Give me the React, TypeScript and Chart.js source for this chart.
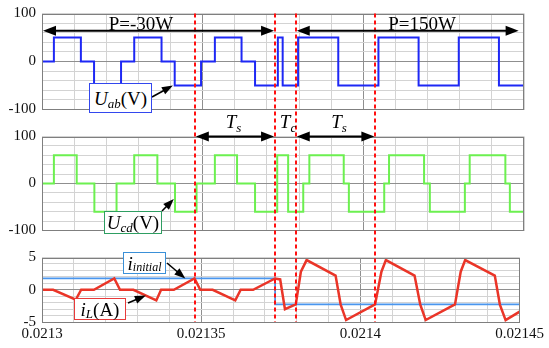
import React, { useEffect, useRef } from "react";
import { Chart, registerables } from "chart.js";

Chart.register(...registerables);

// ---------------- axes ----------------
const xMin = 0.0213;
const xMax = 0.02145;
const xGridStep = 0.00001;
const xTickLabels = [0.0213, 0.02135, 0.0214, 0.02145];
const xMajorGrid = [0.02135, 0.0214];
const voltTickLabels = [100, 0, -100];
const currentTickLabels = [5, 0, -5];

// ---------------- U_ab (V), step changes ----------------
const uabTimes = [
  0.0213, 0.0213037, 0.0213121, 0.0213162, 0.0213246, 0.0213287, 0.0213372,
  0.0213413, 0.0213495, 0.0213538, 0.0213621, 0.0213663, 0.0213734, 0.0213749,
  0.0213797, 0.0213922, 0.0214047, 0.0214172, 0.0214297, 0.0214422, 0.02145,
];
const uabValues = [
  0, 50, 0, -50, 0, 50, 0, -50, 0, 50, 0, -50, 50, -50, 50, -50, 50, -50, 50, -50, -50,
];

// ---------------- U_cd (V), step changes ----------------
const ucdTimes = [
  0.0213, 0.0213037, 0.0213108, 0.0213163, 0.0213232, 0.0213287, 0.0213359,
  0.0213414, 0.0213481, 0.0213538, 0.0213607, 0.0213663, 0.0213732, 0.0213766,
  0.0213813, 0.0213832, 0.0213939, 0.0213955, 0.0214065, 0.021408, 0.0214189,
  0.0214207, 0.0214316, 0.0214331, 0.0214442, 0.0214456, 0.02145,
];
const ucdValues = [
  0, 60, 0, -60, 0, 60, 0, -60, 0, 60, 0, -60, 60, -60, 0, 60, 0, -60, 0, 60, 0,
  -60, 0, 60, 0, -60, -60,
];

// ---------------- i_L (A) ----------------
const iLTimes = [
  0.0213, 0.0213035, 0.0213106, 0.0213123, 0.0213163, 0.0213227, 0.0213245,
  0.0213287, 0.0213359, 0.0213374, 0.0213414, 0.0213479, 0.0213497, 0.0213536,
  0.0213607, 0.0213624, 0.0213663, 0.0213732, 0.0213748, 0.0213763, 0.0213797,
  0.0213813, 0.0213831, 0.0213922, 0.0213938, 0.0213955, 0.0214046, 0.0214066,
  0.021408, 0.021417, 0.0214188, 0.0214205, 0.0214297, 0.0214315, 0.0214329,
  0.0214422, 0.0214438, 0.0214456, 0.02145,
];
const iLValues = [
  0, 0, -1.55, 0, 0, 1.75, 0, 0, -1.65, 0, 0, 1.75, 0, 0, -1.65, 0, 0, 1.75, 1.6,
  -3.0, -2.27, 2.8, 4.6, 2.2, -2.3, -4.7, -2.27, 2.8, 4.6, 2.2, -2.3, -4.7, -2.27,
  2.8, 4.6, 2.2, -2.3, -4.7, -3.4,
];

// ---------------- i_initial reference line ----------------
const iInitTimes = [0.0213, 0.0213732, 0.0213732, 0.02145];
const iInitValues = [1.75, 1.75, -2.27, -2.27];

// ---------------- interval markers (red dashed) ----------------
const markerTimes = [0.021348, 0.0213732, 0.0213797, 0.0214047];

// ---------------- annotation anchors (data coords) ----------------
const uabArrowTip = { x: 0.0213411, y: -50 };
const ucdArrowTip = { x: 0.0213414, y: -33 };
const iInitArrowTip = { x: 0.021345, y: 1.75 };
const iLArrowTip = { x: 0.0213326, y: -0.9 };
const powerArrowLevel = 64;

const SERIF = "'Liberation Serif', 'Times New Roman', Tinos, 'Nimbus Roman', serif";
const tickFont = { family: SERIF, size: 15, lineHeight: 1 };
const near = (a: number, b: number) => Math.abs(a - b) < 1e-9;
const toPoints = (xs: number[], ys: number[]) => xs.map((x, i) => ({ x, y: ys[i] }));

const GRID_MINOR = "#d3d3d3";
const GRID_MAJOR = "#8f8f8f";

function panelOptions(cfg: any): any {
  const { yMin, yMax, yStep, yLabels, showX, padTop, padBottom, xHeight } = cfg;
  return {
    responsive: false,
    animation: false,
    events: [],
    layout: { padding: { left: 0, right: 25, top: padTop, bottom: padBottom } },
    plugins: { legend: { display: false }, tooltip: { enabled: false } },
    elements: { point: { radius: 0 }, line: { tension: 0 } },
    scales: {
      x: {
        type: "linear",
        min: xMin,
        max: xMax,
        afterFit: (s: any) => {
          s.height = xHeight;
        },
        border: { display: false },
        grid: {
          drawTicks: false,
          lineWidth: 1,
          color: (c: any) =>
            c.tick && xMajorGrid.some((m) => near(m, c.tick.value)) ? GRID_MAJOR : GRID_MINOR,
        },
        ticks: {
          display: showX,
          stepSize: xGridStep,
          autoSkip: false,
          maxRotation: 0,
          padding: 5,
          color: "#111",
          font: tickFont,
          callback: (v: number) => {
            const l = xTickLabels.find((t) => near(t, v));
            return l === undefined ? "" : String(l);
          },
        },
      },
      y: {
        min: yMin,
        max: yMax,
        afterFit: (s: any) => {
          s.width = 42;
        },
        border: { display: false },
        grid: {
          drawTicks: false,
          lineWidth: 1,
          color: (c: any) => (c.tick && near(c.tick.value, 0) ? GRID_MAJOR : GRID_MINOR),
        },
        ticks: {
          stepSize: yStep,
          autoSkip: false,
          padding: 6,
          color: "#111",
          font: tickFont,
          callback: (v: number) => (yLabels.some((l: number) => near(l, v)) ? String(v) : ""),
        },
      },
    },
  };
}

function arrowHead(ctx: CanvasRenderingContext2D, x: number, y: number, ang: number, len: number, w: number) {
  const c = Math.cos(ang);
  const s = Math.sin(ang);
  ctx.beginPath();
  ctx.moveTo(x, y);
  ctx.lineTo(x - len * c + (w / 2) * s, y - len * s - (w / 2) * c);
  ctx.lineTo(x - len * c - (w / 2) * s, y - len * s + (w / 2) * c);
  ctx.closePath();
  ctx.fill();
}

function arrow(
  ctx: CanvasRenderingContext2D,
  x1: number,
  y1: number,
  x2: number,
  y2: number,
  both: boolean,
  lw: number,
  len: number,
  w: number
) {
  const ang = Math.atan2(y2 - y1, x2 - x1);
  const c = Math.cos(ang);
  const s = Math.sin(ang);
  ctx.lineWidth = lw;
  ctx.setLineDash([]);
  ctx.beginPath();
  ctx.moveTo(x1 + (both ? len * 0.7 * c : 0), y1 + (both ? len * 0.7 * s : 0));
  ctx.lineTo(x2 - len * 0.7 * c, y2 - len * 0.7 * s);
  ctx.stroke();
  arrowHead(ctx, x2, y2, ang, len, w);
  if (both) arrowHead(ctx, x1, y1, ang + Math.PI, len, w);
}

const OFFSETS = [0, 123, 244];
const HEIGHTS = [123, 121, 104];

function drawOverlay(ctx: CanvasRenderingContext2D, charts: Chart[]) {
  ctx.clearRect(0, 0, 549, 348);
  const xs: any = charts[2].scales.x;
  const px = (t: number) => xs.getPixelForValue(t);
  const py = (i: number, v: number) => (charts[i].scales.y as any).getPixelForValue(v) + OFFSETS[i];

  // panel frames
  ctx.strokeStyle = "#7f7f7f";
  ctx.lineWidth = 1;
  charts.forEach((ch, i) => {
    const a = ch.chartArea;
    ctx.strokeRect(
      Math.round(a.left) + 0.5,
      Math.round(a.top + OFFSETS[i]) + 0.5,
      Math.round(a.right - a.left) - 1,
      Math.round(a.bottom - a.top) - 1
    );
  });

  // red dashed markers
  const yTop = charts[0].chartArea.top + OFFSETS[0];
  const yBot = charts[2].chartArea.bottom + OFFSETS[2];
  ctx.strokeStyle = "#ff1010";
  ctx.lineWidth = 2;
  ctx.setLineDash([4, 3]);
  markerTimes.forEach((t) => {
    const x = Math.round(px(t));
    ctx.beginPath();
    ctx.moveTo(x, yTop);
    ctx.lineTo(x, yBot);
    ctx.stroke();
  });
  ctx.setLineDash([]);

  // interval arrows
  ctx.strokeStyle = "#000";
  ctx.fillStyle = "#000";
  const yP = py(0, powerArrowLevel);
  arrow(ctx, px(xMin) + 1, yP, px(markerTimes[1]) - 1, yP, true, 2, 13, 10);
  arrow(ctx, px(markerTimes[2]) + 1, yP, px(xMax) - 1, yP, true, 2, 13, 10);
  const yT = py(1, 100);
  arrow(ctx, px(markerTimes[0]) + 1, yT, px(markerTimes[1]) - 1, yT, true, 2, 13, 10);
  arrow(ctx, px(markerTimes[2]) + 1, yT, px(markerTimes[3]) - 1, yT, true, 2, 13, 10);

  // label pointer arrows
  arrow(ctx, 152, 97, px(uabArrowTip.x), py(0, uabArrowTip.y), false, 1.6, 11, 8);
  arrow(ctx, 162, 211, px(ucdArrowTip.x), py(1, ucdArrowTip.y), false, 1.6, 11, 8);
  arrow(ctx, 167, 263, px(iInitArrowTip.x), py(2, iInitArrowTip.y), false, 1.6, 11, 8);
  arrow(ctx, 128, 303, px(iLArrowTip.x), py(2, iLArrowTip.y), false, 1.6, 11, 8);
}

const centered = (x: number, y: number, size: number): React.CSSProperties => ({
  position: "absolute",
  left: x,
  top: y,
  transform: "translate(-50%, -50%)",
  fontSize: size,
  lineHeight: 1,
  whiteSpace: "nowrap",
});

const box = (l: number, t: number, w: number, h: number, color: string): React.CSSProperties => ({
  position: "absolute",
  left: l,
  top: t,
  width: w,
  height: h,
  boxSizing: "border-box",
  border: `1.5px solid ${color}`,
  background: "#fff",
  display: "flex",
  alignItems: "center",
  justifyContent: "center",
  whiteSpace: "nowrap",
  lineHeight: 1,
  fontSize: 19,
});

const sub = (size: number, drop: number): React.CSSProperties => ({
  fontSize: size,
  fontStyle: "italic",
  position: "relative",
  top: drop,
});

export default function App() {
  const topRef = useRef<HTMLCanvasElement>(null);
  const midRef = useRef<HTMLCanvasElement>(null);
  const botRef = useRef<HTMLCanvasElement>(null);
  const ovRef = useRef<HTMLCanvasElement>(null);

  useEffect(() => {
    const top = new Chart(topRef.current!, {
      type: "line",
      data: {
        datasets: [
          {
            data: toPoints(uabTimes, uabValues),
            stepped: true,
            borderColor: "#1e28f5",
            borderWidth: 2,
            pointRadius: 0,
            fill: false,
          } as any,
        ],
      },
      options: panelOptions({
        yMin: -100,
        yMax: 100,
        yStep: 20,
        yLabels: voltTickLabels,
        showX: false,
        padTop: 13,
        padBottom: 10,
        xHeight: 0,
      }),
    });
    const mid = new Chart(midRef.current!, {
      type: "line",
      data: {
        datasets: [
          {
            data: toPoints(ucdTimes, ucdValues),
            stepped: true,
            borderColor: "#6cf050",
            borderWidth: 2,
            pointRadius: 0,
            fill: false,
          } as any,
        ],
      },
      options: panelOptions({
        yMin: -100,
        yMax: 100,
        yStep: 20,
        yLabels: voltTickLabels,
        showX: false,
        padTop: 10,
        padBottom: 10,
        xHeight: 0,
      }),
    });
    const bot = new Chart(botRef.current!, {
      type: "line",
      data: {
        datasets: [
          {
            data: toPoints(iLTimes, iLValues),
            borderColor: "#ea3528",
            borderWidth: 2.5,
            pointRadius: 0,
            fill: false,
          } as any,
          {
            data: toPoints(iInitTimes, iInitValues),
            borderColor: "#4a96ee",
            borderWidth: 1.8,
            pointRadius: 0,
            fill: false,
          } as any,
        ],
      },
      options: panelOptions({
        yMin: -5,
        yMax: 5,
        yStep: 1,
        yLabels: currentTickLabels,
        showX: true,
        padTop: 9,
        padBottom: 0,
        xHeight: 26,
      }),
    });
    const ctx = ovRef.current!.getContext("2d")!;
    drawOverlay(ctx, [top, mid, bot]);
    return () => {
      top.destroy();
      mid.destroy();
      bot.destroy();
      ctx.clearRect(0, 0, 549, 348);
    };
  }, []);

  const cv = (i: number): React.CSSProperties => ({
    position: "absolute",
    left: 0,
    top: OFFSETS[i],
    width: 549,
    height: HEIGHTS[i],
    display: "block",
  });

  return (
    <div
      style={{
        position: "absolute",
        left: 0,
        top: 0,
        width: 549,
        height: 348,
        background: "#fff",
        overflow: "hidden",
        fontFamily: SERIF,
        color: "#000",
      }}
    >
      <canvas ref={topRef} width={549} height={HEIGHTS[0]} style={cv(0)} />
      <canvas ref={midRef} width={549} height={HEIGHTS[1]} style={cv(1)} />
      <canvas ref={botRef} width={549} height={HEIGHTS[2]} style={cv(2)} />
      <canvas
        ref={ovRef}
        width={549}
        height={348}
        style={{ position: "absolute", left: 0, top: 0, width: 549, height: 348, pointerEvents: "none" }}
      />

      <div style={centered(141, 22.5, 19)}>P=-30W</div>
      <div style={centered(422, 22.5, 19)}>P=150W</div>

      <div style={centered(233.5, 121, 19)}>
        <i>T</i>
        <span style={sub(13, 4)}>s</span>
      </div>
      <div style={centered(288, 121, 19)}>
        <i>T</i>
        <span style={sub(13, 4)}>c</span>
      </div>
      <div style={centered(339, 121, 19)}>
        <i>T</i>
        <span style={sub(13, 4)}>s</span>
      </div>

      <div style={box(89, 83, 63, 30, "#3347ee")}>
        <i>U</i>
        <span style={sub(13, 5)}>ab</span>
        <span>(V)</span>
      </div>
      <div style={box(104, 211, 58, 23, "#2e9e62")}>
        <i>U</i>
        <span style={sub(13, 5)}>cd</span>
        <span>(V)</span>
      </div>
      <div style={box(123, 252, 43, 22, "#3a90d8")}>
        <i>i</i>
        <span style={sub(12, 4)}>initial</span>
      </div>
      <div style={box(74, 298, 52, 22, "#e83a3a")}>
        <i>i</i>
        <span style={sub(13, 4)}>L</span>
        <span>(A)</span>
      </div>
    </div>
  );
}
